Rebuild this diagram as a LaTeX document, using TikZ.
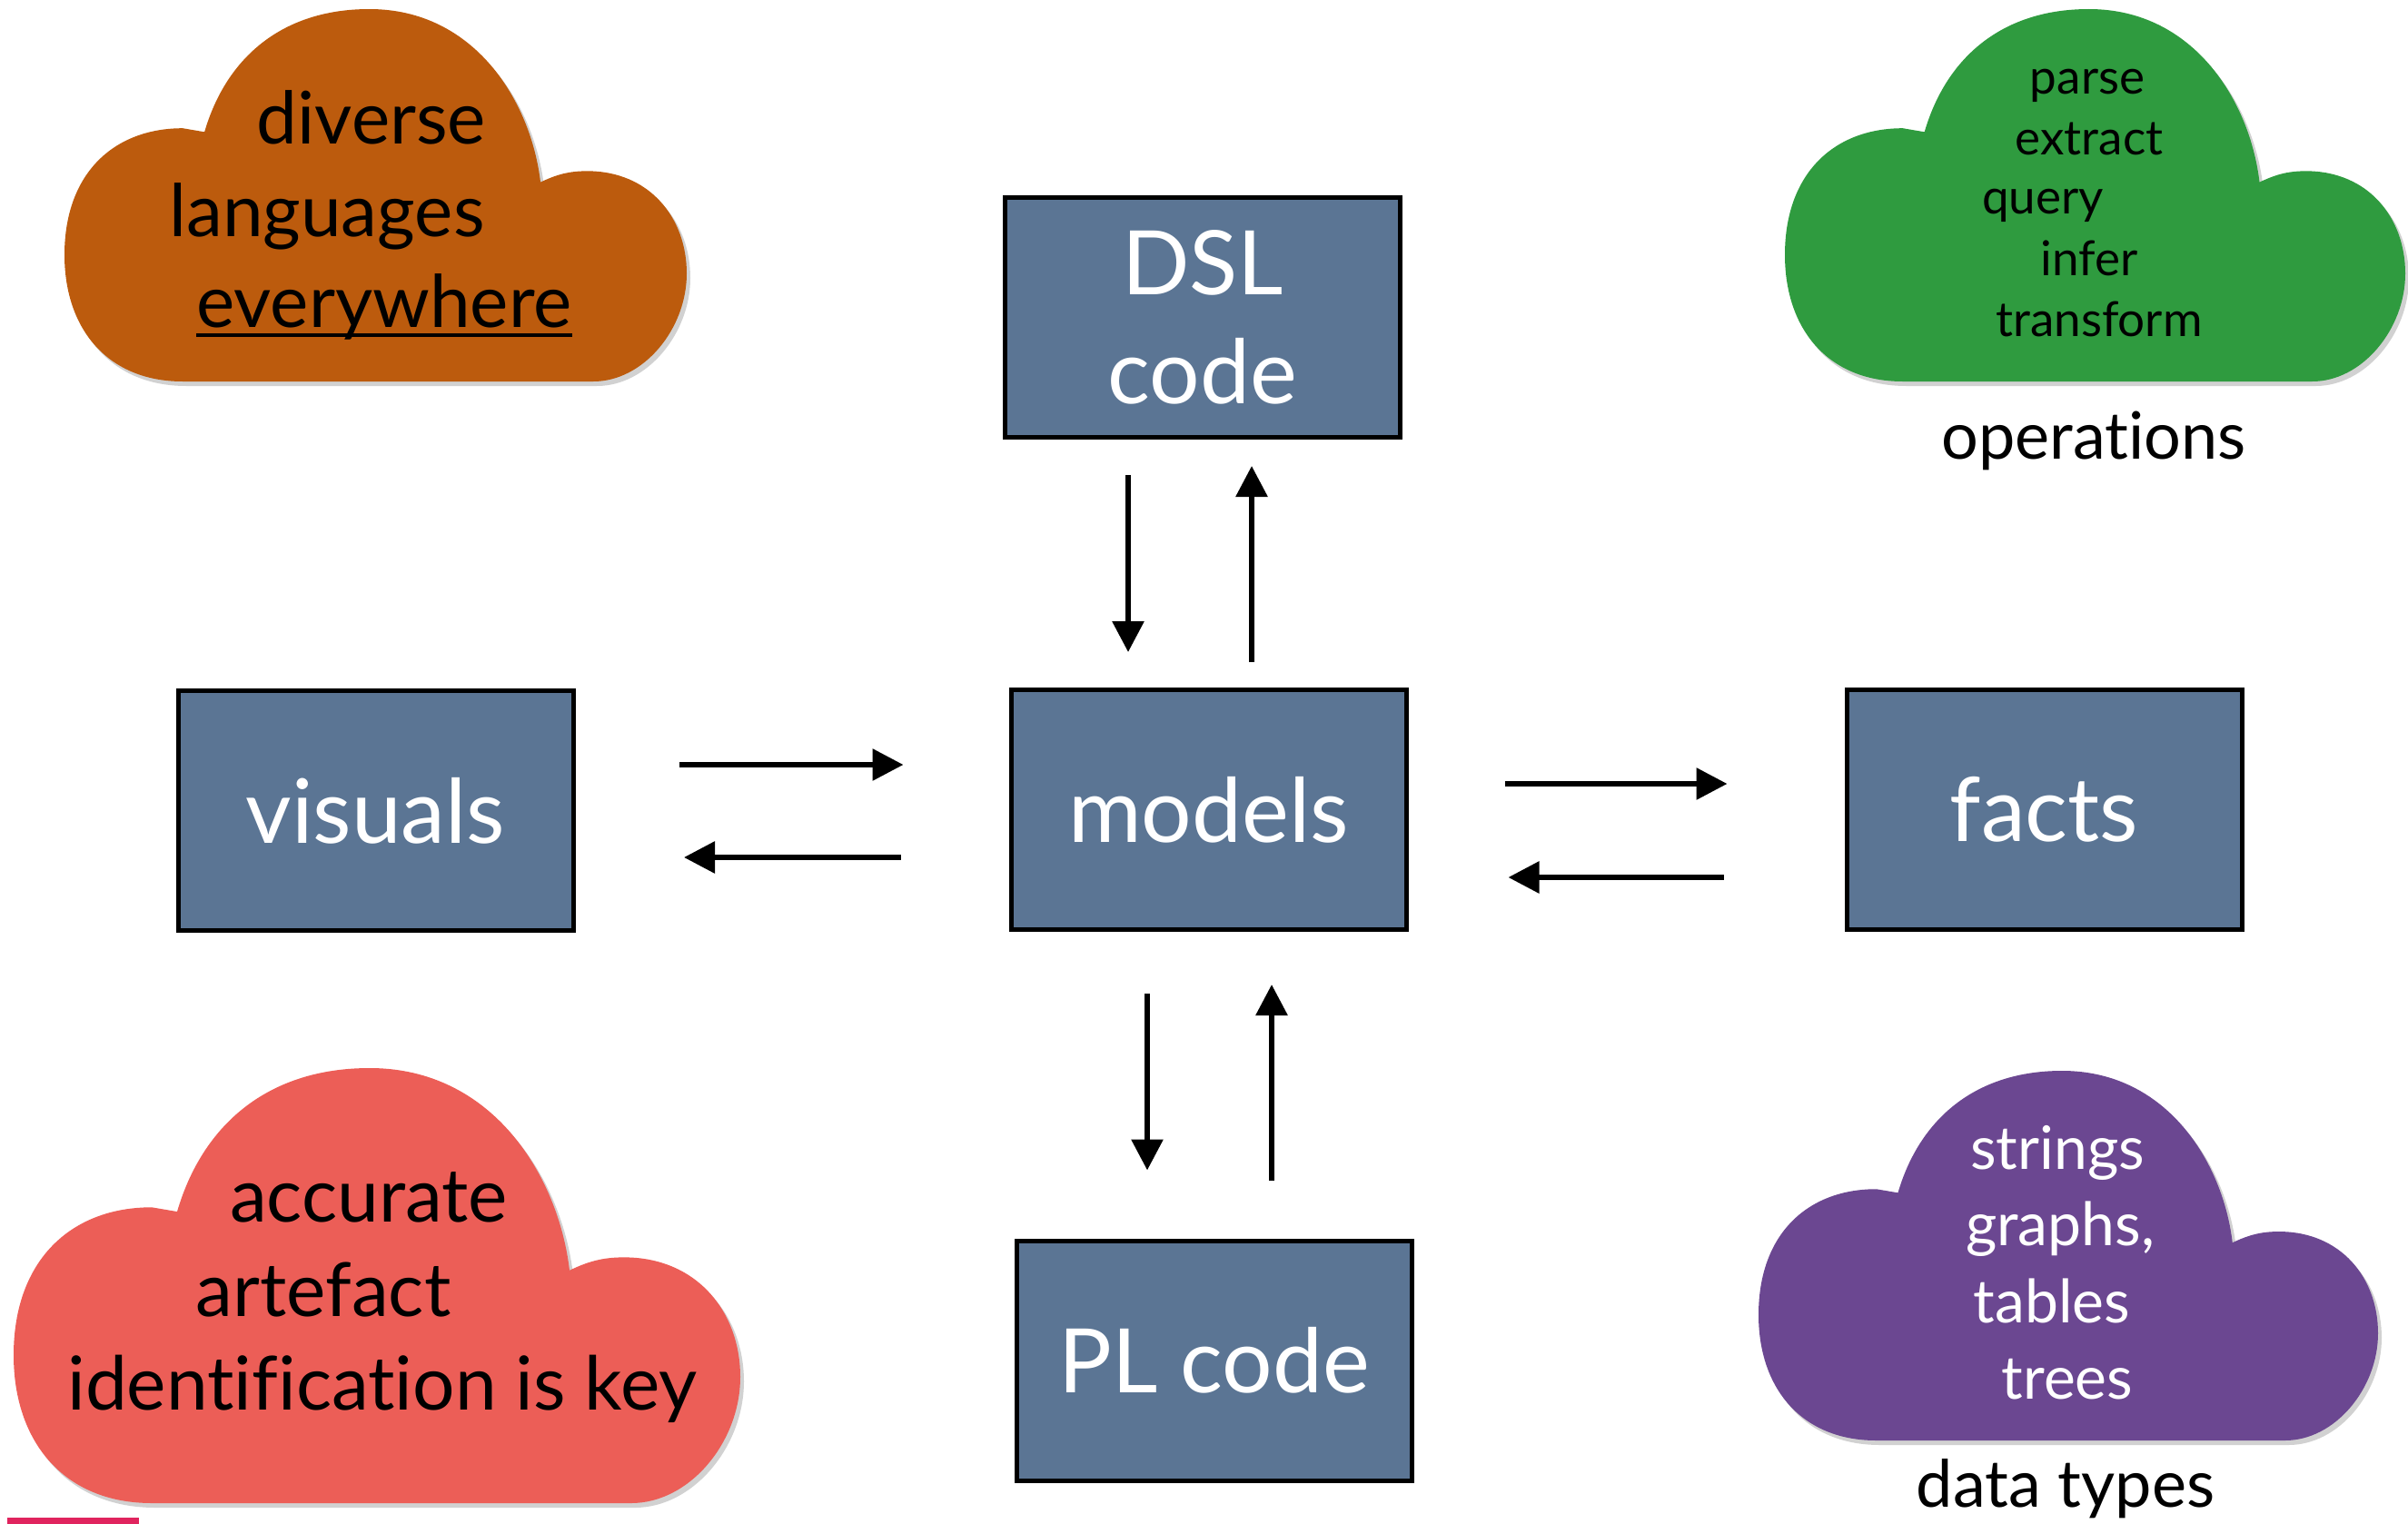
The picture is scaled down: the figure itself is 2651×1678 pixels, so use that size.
\documentclass[tikz,border=0pt]{standalone}
\usepackage{fontspec}
\setmainfont{Lato}[Ligatures=NoCommon]
\usetikzlibrary{arrows.meta,calc}
\definecolor{boxblue}{RGB}{91,117,148}
\definecolor{cloudorange}{RGB}{188,91,13}
\definecolor{cloudgreen}{RGB}{47,155,63}
\definecolor{cloudred}{RGB}{236,94,87}
\definecolor{cloudpurple}{RGB}{107,71,145}
\definecolor{pinkbar}{RGB}{224,36,94}
\newcommand\cloudfill[1]{\fill[#1] (0.19,1) .. controls (0.07,1) and (0,0.86) .. (0,0.66)
  .. controls (0,0.44) and (0.08,0.32) .. (0.19,0.32) -- (0.225,0.33)
  .. controls (0.26,0.13) and (0.35,0) .. (0.49,0)
  .. controls (0.66,0) and (0.75,0.25) .. (0.765,0.465)
  .. controls (0.79,0.445) and (0.81,0.435) .. (0.84,0.435)
  .. controls (0.94,0.435) and (1,0.56) .. (1,0.71)
  .. controls (1,0.86) and (0.93,1) .. (0.85,1) -- cycle;}
\newcommand\drawcloud[5]{%
  \begin{scope}[shift={(#1+4,#2+5)}, xscale=#3, yscale=#4]
    \cloudfill{black,opacity=0.18}
  \end{scope}
  \begin{scope}[shift={(#1,#2)}, xscale=#3, yscale=#4]
    \cloudfill{#5}
  \end{scope}}
\tikzset{
  boxnode/.style={draw=black, line width=5pt, fill=boxblue, minimum width=435pt,
    minimum height=264pt, inner sep=0pt, text=white, align=center,
    font=\fontsize{98}{120}\selectfont},
  arr/.style={line width=6pt, -{Triangle[width=34pt,length=34pt]}},
  ctext/.style={anchor=base, inner sep=0pt},
}
\begin{document}
\begin{tikzpicture}[x=1pt,y=-1pt]
\useasboundingbox (0,0) rectangle (2651,1678);
% clouds
\drawcloud{71}{10}{685}{410}{cloudorange}
\drawcloud{1965}{10}{683}{410}{cloudgreen}
\drawcloud{15}{1176}{800}{479}{cloudred}
\drawcloud{1936}{1179}{682}{407}{cloudpurple}
% pink bar
\fill[pinkbar] (8,1671) rectangle (153,1678);
% boxes
\node[boxnode] (DSL) at (1324,349.5) {DSL\\code};
\node[boxnode] (models) at (1330.5,891.5) {models};
\node[boxnode] (visuals) at (413.5,892.5) {visuals};
\node[boxnode] (facts) at (2250.5,891.5) {facts};
\node[boxnode] (PL) at (1336.5,1498) {PL code};
% arrows
\draw[arr] ($(DSL.south)+(-82,39)$) -- ($(models.north)+(-88.5,-39)$);
\draw[arr] ($(models.north)+(47.5,-28)$) -- ($(DSL.south)+(54,29)$);
\draw[arr] ($(visuals.east)+(114.5,-50.5)$) -- ($(models.west)+(-116,-49.5)$);
\draw[arr] ($(models.west)+(-119,52.5)$) -- ($(visuals.east)+(119.5,51.5)$);
\draw[arr] ($(models.east)+(106,-28.5)$) -- ($(facts.west)+(-129,-28.5)$);
\draw[arr] ($(facts.west)+(-133,74.5)$) -- ($(models.east)+(110,74.5)$);
\draw[arr] ($(models.south)+(-67.5,68)$) -- ($(PL.north)+(-73.5,-75)$);
\draw[arr] ($(PL.north)+(63.5,-64)$) -- ($(models.south)+(69.5,58)$);
% orange cloud text
\begin{scope}[every node/.style={ctext, font=\fontsize{80}{96}\selectfont}]
\node (o1) at (409,158) {diverse};
\node (o2) at (360,260) {languages};
\node (o3) at (423,360) {everywhere};
\end{scope}
\draw[line width=4pt] ($(o3.base west)+(0,9)$) -- ($(o3.base east)+(0,9)$);
% green cloud text
\begin{scope}[every node/.style={ctext, font=\fontsize{53}{64}\selectfont}]
\node (g1) at (2298,103) {parse};
\node (g2) at (2300,170) {extract};
\node (g3) at (2249,235) {query};
\node (g4) at (2300,303) {infer};
\node (g5) at (2311,370) {transform};
\end{scope}
\node[ctext, font=\fontsize{72}{86}\selectfont] (ops) at (2305,505) {operations};
% red cloud text
\begin{scope}[every node/.style={ctext, font=\fontsize{82}{98}\selectfont}]
\node (r1) at (406,1345) {accurate};
\node (r2) at (356,1449) {artefact};
\node (r3) at (421,1552) {identification is key};
\end{scope}
% purple cloud text
\begin{scope}[every node/.style={ctext, text=white, font=\fontsize{66}{80}\selectfont}]
\node (p1) at (2265,1287) {strings};
\node (p2) at (2268,1371) {graphs,};
\node (p3) at (2259,1456) {tables};
\node (p4) at (2276,1540) {trees};
\end{scope}
\node[ctext, font=\fontsize{72}{86}\selectfont] (dt) at (2274,1659) {data types};
\end{tikzpicture}
\end{document}
